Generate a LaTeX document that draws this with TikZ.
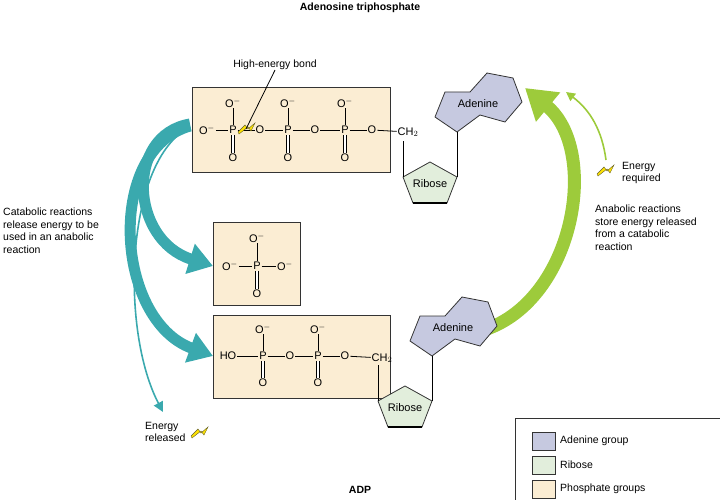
\documentclass[tikz,border=0pt]{standalone}
\usepackage{fontspec}
\setmainfont{Liberation Sans}
\usetikzlibrary{arrows.meta}
\definecolor{phos}{HTML}{FBEDD3}
\definecolor{ribo}{HTML}{E2EEDC}
\definecolor{aden}{HTML}{C6C9E0}
\definecolor{teal}{HTML}{3AA9AE}
\definecolor{lime}{HTML}{9DCB3B}
\tikzset{
	atom/.style = {inner sep=0.8pt, font=\fontsize{11}{12}\selectfont},
	lbl/.style = {align=left, inner sep=0pt, font=\fontsize{10.5}{12.5}\selectfont},
	pbox/.style = {draw=black!80, fill=phos, line width=1pt},
	bond/.style = {line width=0.8pt},
	dbl/.style = {double, double distance=2pt, line width=0.7pt},
}
\newcommand{\bolt}[1]{\fill[yellow!85!orange, draw=olive!60!black, line width=0.4pt, shift={#1}]
	(0,0) -- (7,-7) -- (10,-3) -- (17,-9) -- (13,-1) -- (10,-5) -- (1,2) -- cycle;}
\newcommand{\sugar}{
	\draw[black!80, fill=aden, line width=0.8pt] (445,92) -- (470,92) -- (487,73) -- (513,78) -- (522,102) -- (505,122) -- (480,115) -- (457,132) -- (435,117) -- cycle;
	\node[atom] at (478,104) {Adenine};
	\draw[black!80, fill=ribo, line width=0.8pt] (430,162) -- (457,177) -- (447,203) -- (413,203) -- (403,177) -- cycle;
	\draw[line width=2.5pt] (413,203) -- (447,203);
	\node[atom] at (430,184) {Ribose};
	\draw[bond] (403,177) -- (403,141);
	\draw[bond] (457,177) -- (457,132);
}
\begin{document}
\begin{tikzpicture}[x=1pt, y=-1pt]
	\useasboundingbox (0,0) rectangle (720,500);
	\node[font=\bfseries\fontsize{10.5}{12}\selectfont] (title) at (360,8) {Adenosine triphosphate};
	
	% arrows behind boxes
	\draw[teal, line width=11pt, -{Triangle[width=30pt,length=24pt]}] (190,124) .. controls (125,135) and (130,240) .. (213,266);
	\draw[teal, line width=11pt, -{Triangle[width=30pt,length=24pt]}] (190,126) .. controls (105,150) and (115,320) .. (213,356);
	\draw[teal, line width=1.6pt, -{Triangle[width=10pt,length=10pt]}] (190,127) .. controls (125,160) and (120,330) .. (163,412);
	\draw[lime, line width=13pt, -{Triangle[width=36pt,length=30pt]}] (484,330) .. controls (575,300) and (600,150) .. (525,88);
	\draw[lime, line width=1.6pt, -{Triangle[width=9pt,length=9pt]}] (606,160) .. controls (602,130) and (590,110) .. (566,92);
	
	% ATP
	\draw[pbox] (192,88) rectangle (390,172);
	\node[atom] (a0) at (207,130) {O$^{-}$};
	\foreach \x/\n in {233/1, 288/2, 345/3} {
		\node[atom] (p\n) at (\x,130) {P};
		\node[atom] (t\n) at (\x,103) {O$^{-}$};
		\node[atom] (b\n) at (\x,158) {O};
		\draw[bond] (p\n) -- (p\n |- t\n.south);
		\draw[dbl] (p\n) -- (b\n);
	}
	\node[atom] (o1) at (260,130) {O};
	\node[atom] (o2) at (315,130) {O};
	\node[atom] (o3) at (372,130) {O};
	\node[atom] (ch) at (408,132) {CH$_2$};
	\foreach \a/\b in {a0/p1, p1/o1, o1/p2, p2/o2, o2/p3, p3/o3, o3/ch}
		\draw[bond] (\a) -- (\b);
	\bolt{(238,132)}
	\node[lbl] (heb) at (275,65) {High-energy bond};
	\draw[bond] (heb.south) -- (246,129);
	\sugar
	
	% Pi
	\draw[pbox] (213,222) rectangle (300,305);
	\node[atom] (ip) at (257,266) {P};
	\node[atom] (it) at (257,238) {O$^{-}$};
	\node[atom] (ib) at (257,294) {O};
	\node[atom] (il) at (230,266) {O$^{-}$};
	\node[atom] (ir) at (285,266) {O$^{-}$};
	\draw[bond] (ip) -- (ip |- it.south) (il) -- (ip) -- (ir);
	\draw[dbl] (ip) -- (ib);
	
	% ADP
	\draw[pbox] (213,315) rectangle (390,398);
	\node[atom] (ho) at (228,356) {HO};
	\foreach \x/\n in {263/4, 318/5} {
		\node[atom] (p\n) at (\x,356) {P};
		\node[atom] (t\n) at (\x,329) {O$^{-}$};
		\node[atom] (b\n) at (\x,383) {O};
		\draw[bond] (p\n) -- (p\n |- t\n.south);
		\draw[dbl] (p\n) -- (b\n);
	}
	\node[atom] (o4) at (290,356) {O};
	\node[atom] (o5) at (345,356) {O};
	\node[atom] (ch2) at (382,358) {CH$_2$};
	\foreach \a/\b in {ho/p4, p4/o4, o4/p5, p5/o5, o5/ch2}
		\draw[bond] (\a) -- (\b);
	\begin{scope}[shift={(-25,224)}]
		\sugar
	\end{scope}
	\node[font=\bfseries\fontsize{10.5}{12}\selectfont] (adp) at (360,490) {ADP};
	
	% labels
	\node[lbl, anchor=north west] (cat) at (3,208) {Catabolic reactions\\release energy to be\\used in an anabolic\\reaction};
	\node[lbl, anchor=north west] (ana) at (595,205) {Anabolic reactions\\store energy released\\from a catabolic\\reaction};
	\node[lbl, anchor=north west] (req) at (622,162) {Energy\\required};
	\bolt{(597,174)}
	\node[lbl, anchor=north west] (rel) at (145,422) {Energy\\released};
	\bolt{(191,436)}
	
	% legend
	\draw[black!80, line width=0.8pt] (515,418) rectangle (722,502);
	\foreach \y/\c/\t in {432/aden/Adenine group, 456/ribo/Ribose, 480/phos/Phosphate groups} {
		\draw[black!80, fill=\c, line width=0.8pt] (532,\y) rectangle (555,\y+18);
		\node[lbl, anchor=west] at (560,\y+9) {\t};
	}
\end{tikzpicture}
\end{document}
